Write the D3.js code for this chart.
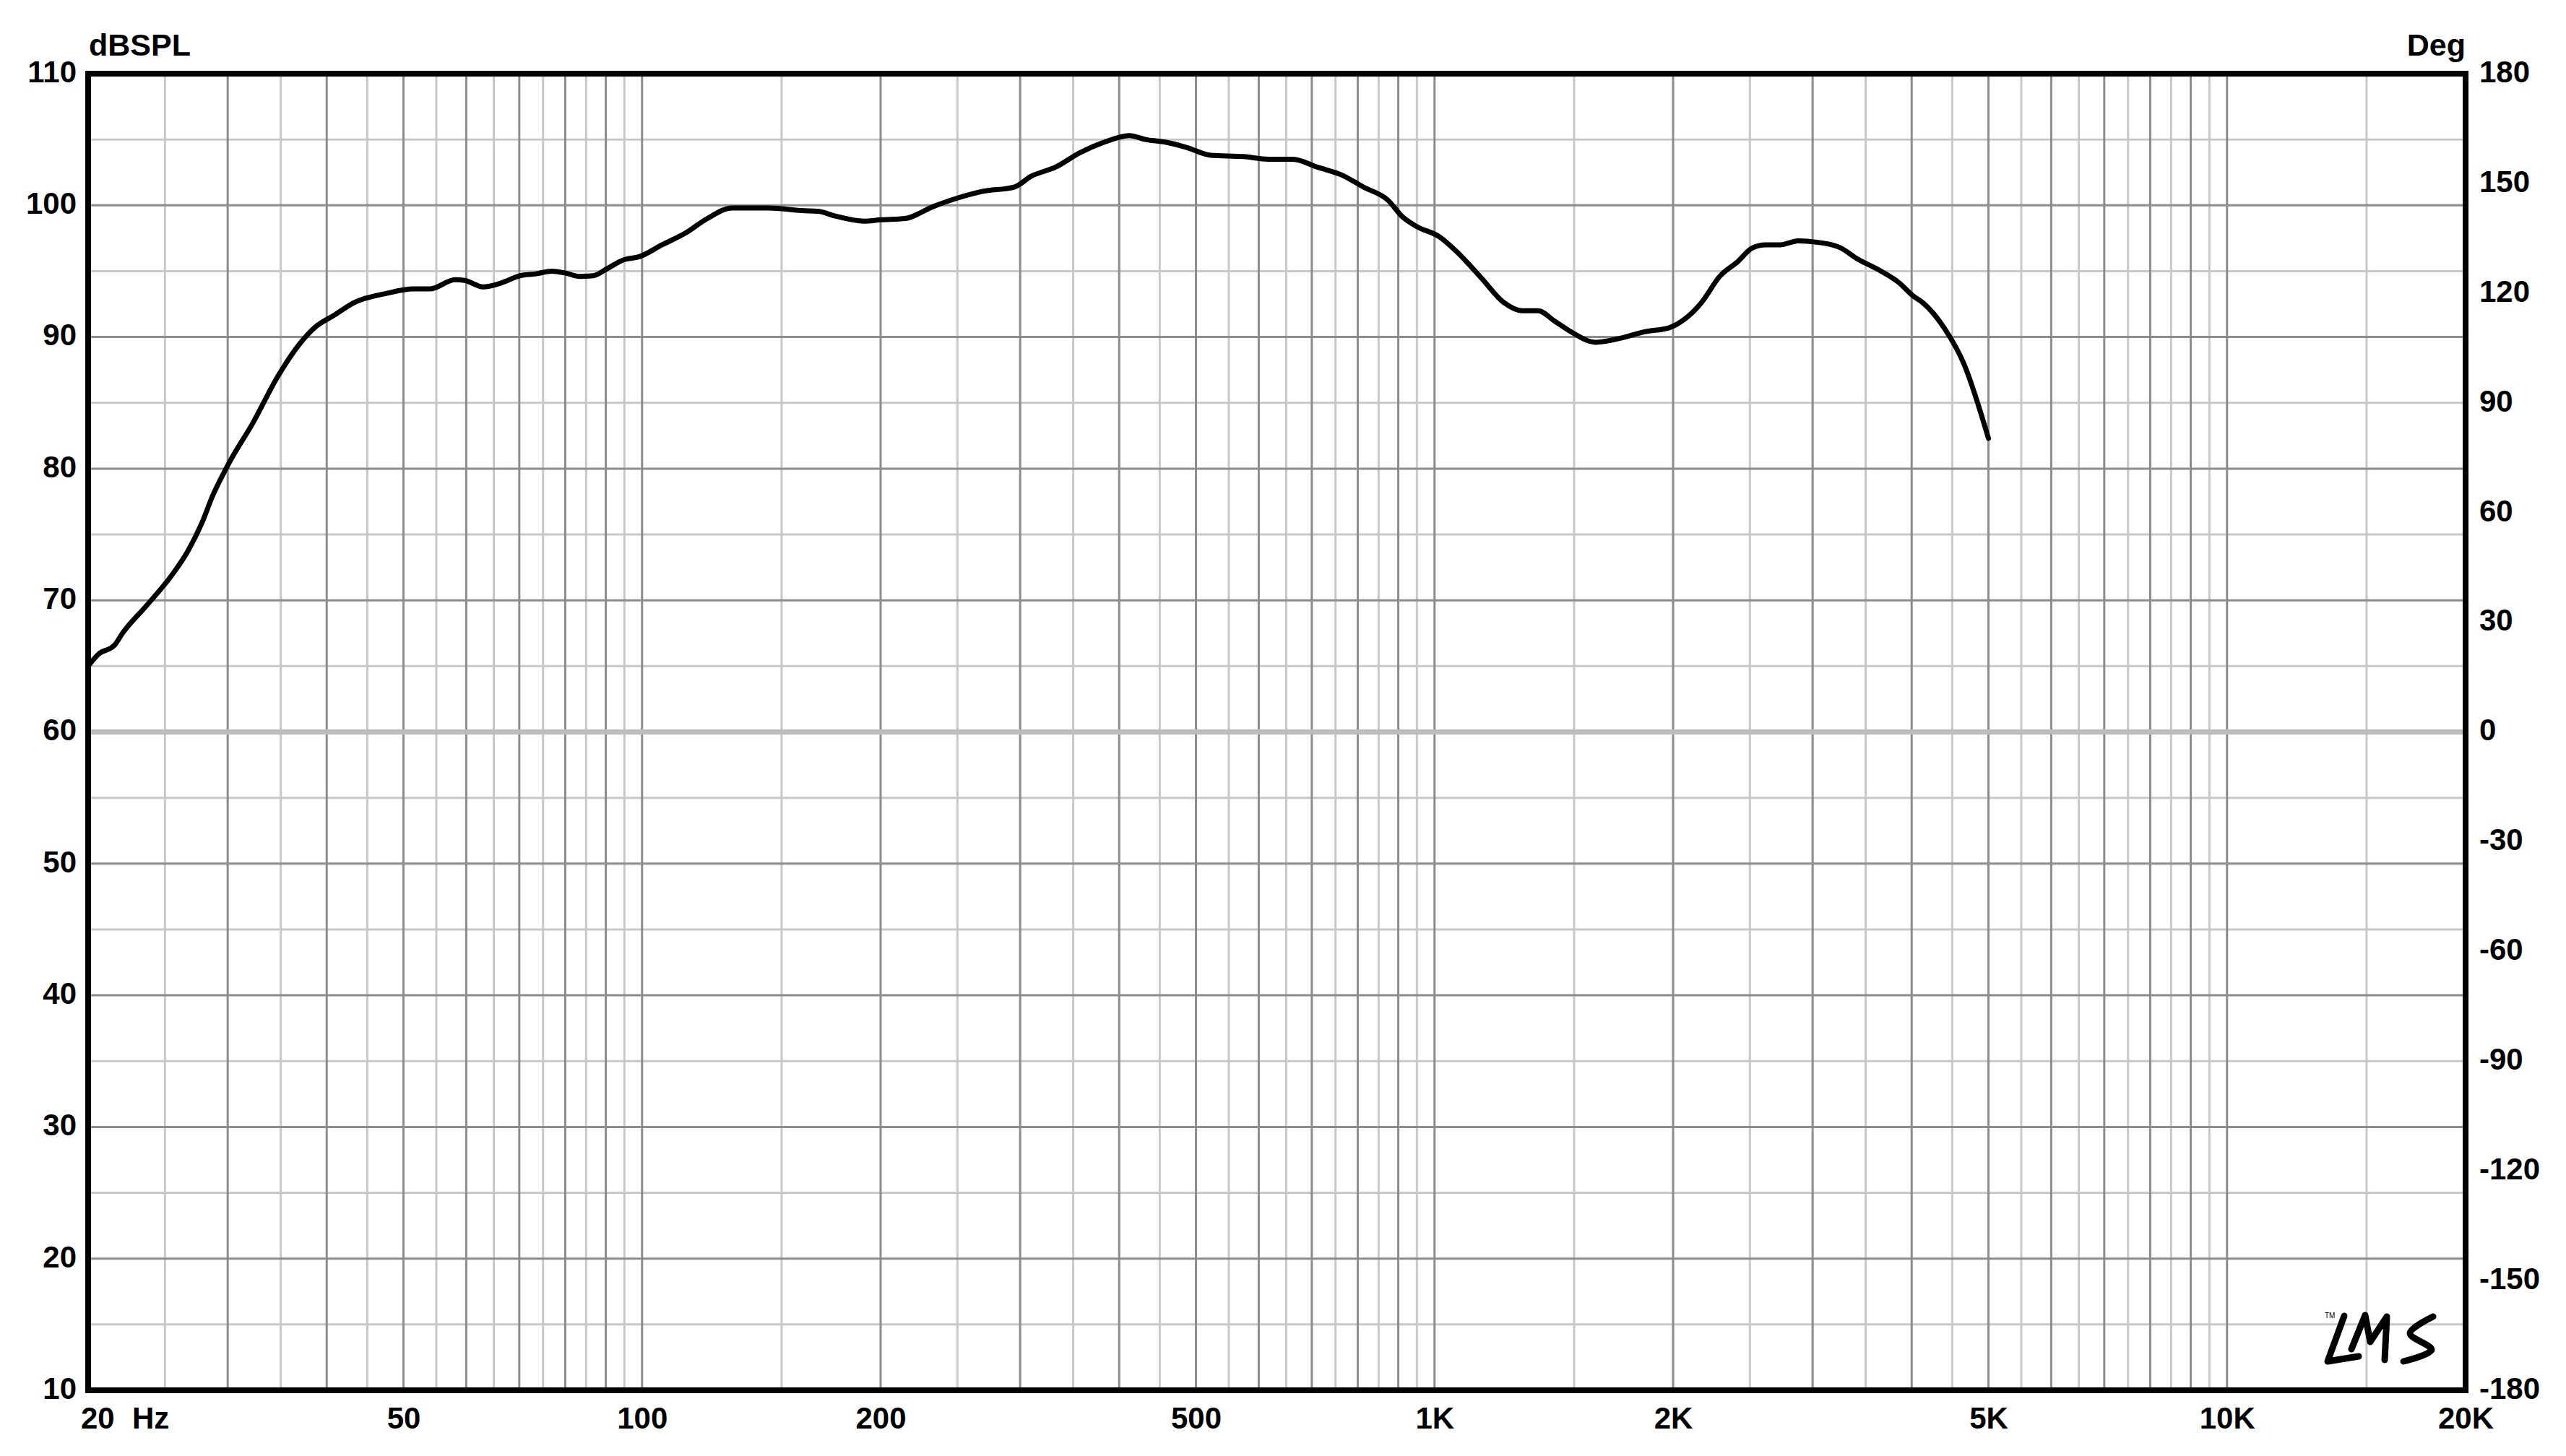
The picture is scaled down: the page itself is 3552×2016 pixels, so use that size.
<!DOCTYPE html>
<html>
<head>
<meta charset="utf-8">
<script src="https://cdn.jsdelivr.net/npm/d3@7"></script>
<style>
  html, body { margin: 0; padding: 0; background: #ffffff; }
  svg { display: block; }
  text { font-family: "Liberation Sans", Arial, sans-serif; font-weight: bold; fill: #000; }
</style>
</head>
<body>
<svg id="chart" width="3552" height="2016"></svg>
<script>
// ---- data ----
const freqHz = [20, 20.6, 21.6, 22.1, 23.7, 25.5, 26.7, 27.8, 28.7, 30.1, 32.3, 34.7, 37.0, 38.6, 41.0, 43.3,
  47.5, 51.5, 54.0, 58.1, 59.7, 63.0, 66.4, 70.1, 73.5, 76.9, 80.1, 83.4, 86.8, 90.4, 94.7, 99.2,
  106, 113.5, 120.6, 130, 144.6, 159, 166.8, 174.9, 190.6, 200, 214.8, 232.9, 250, 268.6, 295.3,
  309.6, 332.5, 357, 383.3, 411.8, 431.8, 457.2, 486.3, 522.3, 574.3, 616.8, 662.5, 711.4, 764,
  812.7, 873, 912, 949, 1015, 1070, 1145, 1224, 1289, 1351, 1418, 1486, 1597, 1715, 1841, 1977,
  2073, 2171, 2290, 2416, 2515, 2618, 2727, 2877, 3034, 3245, 3424, 3660, 3860, 4020, 4133, 4395,
  4653, 5000];
const splDb = [65.0, 65.9, 66.6, 67.5, 69.6, 71.9, 73.7, 75.8, 77.9, 80.4, 83.5, 87.0, 89.5, 90.7, 91.7, 92.6,
  93.3, 93.65, 93.65, 94.35, 94.3, 93.8, 94.1, 94.65, 94.8, 95.0, 94.85, 94.6, 94.65, 95.2, 95.85, 96.1,
  97.0, 97.9, 98.96, 99.8, 99.8, 99.6, 99.55, 99.2, 98.8, 98.9, 99.0, 99.9, 100.55, 101.05, 101.4,
  102.2, 102.9, 104.0, 104.8, 105.3, 105.0, 104.8, 104.4, 103.8, 103.7, 103.5, 103.5, 102.9, 102.3,
  101.4, 100.4, 99.1, 98.4, 97.6, 96.4, 94.5, 92.6, 92.0, 92.0, 91.2, 90.4, 89.6, 89.9, 90.4, 90.7,
  91.4, 92.6, 94.6, 95.75, 96.75, 97.0, 97.0, 97.3, 97.2, 96.8, 95.9, 95.0, 94.1, 93.1, 92.6, 90.7,
  88.0, 82.3];

const dbTicks = [110, 100, 90, 80, 70, 60, 50, 40, 30, 20, 10];
const dbMinorGrid = [105, 95, 85, 75, 65, 55, 45, 35, 25, 15];
const degTicks = [180, 150, 120, 90, 60, 30, 0, -30, -60, -90, -120, -150, -180];
const freqTickValues = [50, 100, 200, 500, 1000, 2000, 5000, 10000, 20000];
const freqTickLabels = ["50", "100", "200", "500", "1K", "2K", "5K", "10K", "20K"];
const freqMajorGrid = [30, 40, 50, 60, 70, 80, 90, 100, 200, 300, 400, 500, 600, 700, 800, 900, 1000,
  2000, 3000, 4000, 5000, 6000, 7000, 8000, 9000, 10000];
const freqMinorGrid = [25, 35, 45, 55, 65, 75, 85, 95, 150, 250, 350, 450, 550, 650, 750, 850, 950, 1500,
  2500, 3500, 4500, 5500, 6500, 7500, 8500, 9500, 15000];
const leftTitle = "dBSPL";
const rightTitle = "Deg";

// ---- layout ----
const L = 122, R = 3413, T = 102, B = 1925;
const svg = d3.select("#chart");
svg.append("rect").attr("width", 3552).attr("height", 2016).attr("fill", "#fff");

const x = d3.scaleLog().domain([20, 20000]).range([L, R]);
const y = d3.scaleLinear().domain([10, 110]).range([B, T]);
const yDeg = d3.scaleLinear().domain([-180, 180]).range([B, T]);

const grid = svg.append("g");
grid.selectAll(".hmin").data(dbMinorGrid).join("line")
  .attr("x1", L).attr("x2", R).attr("y1", d => y(d)).attr("y2", d => y(d))
  .attr("stroke", "#c8c8c8").attr("stroke-width", 3);
grid.selectAll(".vmin").data(freqMinorGrid).join("line")
  .attr("x1", d => x(d)).attr("x2", d => x(d)).attr("y1", T).attr("y2", B)
  .attr("stroke", "#c8c8c8").attr("stroke-width", 3);
grid.selectAll(".hmaj").data(dbTicks.filter(d => d !== 60)).join("line")
  .attr("x1", L).attr("x2", R).attr("y1", d => y(d)).attr("y2", d => y(d))
  .attr("stroke", "#8c8c8c").attr("stroke-width", 3);
grid.selectAll(".vmaj").data(freqMajorGrid).join("line")
  .attr("x1", d => x(d)).attr("x2", d => x(d)).attr("y1", T).attr("y2", B)
  .attr("stroke", "#8c8c8c").attr("stroke-width", 3);
grid.append("line").attr("x1", L).attr("x2", R).attr("y1", yDeg(0)).attr("y2", yDeg(0))
  .attr("stroke", "#bcbcbc").attr("stroke-width", 7);

// curve
const line = d3.line().x((d, i) => x(freqHz[i])).y(d => y(d)).curve(d3.curveMonotoneX);
svg.append("path").datum(splDb).attr("d", line)
  .attr("fill", "none").attr("stroke", "#000").attr("stroke-width", 7)
  .attr("stroke-linejoin", "round").attr("stroke-linecap", "round");

// frame
svg.append("rect").attr("x", L).attr("y", T).attr("width", R - L).attr("height", B - T)
  .attr("fill", "none").attr("stroke", "#000").attr("stroke-width", 8);

// axes
const fs = 42;
const leftAxis = svg.append("g").attr("transform", `translate(${L},0)`)
  .call(d3.axisLeft(y).tickValues(dbTicks).tickFormat(d => String(d)).tickSize(0).tickPadding(16));
const rightAxis = svg.append("g").attr("transform", `translate(${R},0)`)
  .call(d3.axisRight(yDeg).tickValues(degTicks).tickFormat(d => String(d)).tickSize(0).tickPadding(19));
const bottomAxis = svg.append("g").attr("transform", `translate(0,${B})`)
  .call(d3.axisBottom(x).tickValues(freqTickValues).tickFormat((d, i) => freqTickLabels[i]).tickSize(0).tickPadding(23));
[leftAxis, rightAxis, bottomAxis].forEach(g => {
  g.select(".domain").remove();
  g.selectAll("text").style("font-family", '"Liberation Sans", Arial, sans-serif')
    .style("font-weight", "bold").style("font-size", fs + "px").attr("fill", "#000");
});
leftAxis.selectAll("text").attr("dy", "0.27em");
rightAxis.selectAll("text").attr("dy", "0.27em");

// 20 Hz label
svg.append("text").attr("x", 112).attr("y", 1978).style("font-size", fs + "px").text("20");
svg.append("text").attr("x", 183).attr("y", 1978).style("font-size", fs + "px").text("Hz");

// titles
svg.append("text").attr("x", 123).attr("y", 77).style("font-size", "43px").text(leftTitle);
svg.append("text").attr("x", 3413).attr("y", 77).attr("text-anchor", "end").style("font-size", "43px").text(rightTitle);

// LMS logo (handwritten mark)
const logo = svg.append("g").attr("fill", "none").attr("stroke", "#000").attr("stroke-width", 9)
  .attr("stroke-linecap", "round").attr("stroke-linejoin", "round");
const pl = d3.line().curve(d3.curveLinear);
logo.append("path").attr("d", pl([[3245, 1822], [3222, 1885], [3265, 1878]]));
logo.append("path").attr("d", pl([[3255, 1868], [3274, 1821], [3281, 1858], [3304, 1823], [3301, 1883]]));
logo.append("path").attr("d", d3.line().curve(d3.curveCatmullRom)([[3368, 1823], [3336, 1846], [3366, 1869], [3327, 1885]]));
svg.append("text").attr("x", 3218).attr("y", 1825).style("font-size", "10px").style("font-weight", "normal").text("TM");
</script>
</body>
</html>
